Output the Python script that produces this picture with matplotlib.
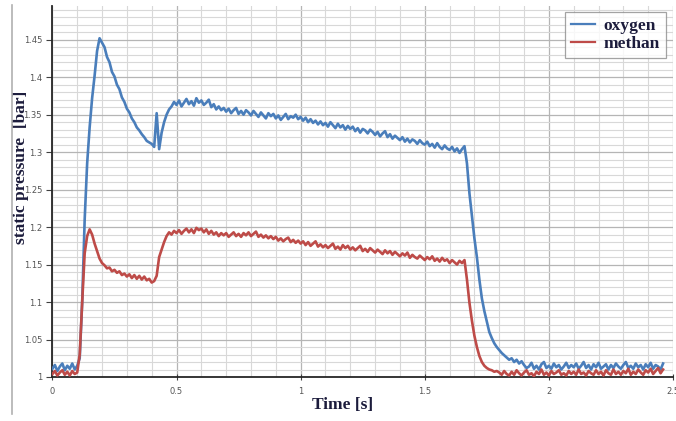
import numpy as np
import matplotlib
matplotlib.use("Agg")
import matplotlib.pyplot as plt
from matplotlib.ticker import MultipleLocator, FuncFormatter
from matplotlib.lines import Line2D

# ---------------- data ----------------
dt = 0.01  # sampling step of the listed values [s]

# oxygen: (segment start time, values every dt)
oxygen_segments = [
    (0.00, [1.011, 1.016, 1.008, 1.014, 1.018, 1.009, 1.015, 1.011, 1.018, 1.010]),
    (0.10, [1.015, 1.025, 1.100, 1.210, 1.285, 1.333, 1.372, 1.402, 1.435, 1.452]),
    (0.20, [1.446, 1.440, 1.427, 1.420, 1.407, 1.401, 1.390, 1.384, 1.373, 1.367]),
    (0.30, [1.358, 1.353, 1.345, 1.340, 1.333, 1.329, 1.324, 1.320, 1.315, 1.313]),
    (0.40, [1.311, 1.307, 1.352, 1.304, 1.326, 1.340, 1.350, 1.357, 1.361, 1.367]),
    (0.50, [1.363, 1.369, 1.361, 1.366, 1.371, 1.364, 1.368, 1.362, 1.372, 1.366]),
    (0.60, [1.369, 1.363, 1.366, 1.370, 1.360, 1.364, 1.357, 1.361, 1.356, 1.359]),
    (0.70, [1.354, 1.358, 1.352, 1.356, 1.359, 1.351, 1.355, 1.350, 1.356, 1.353]),
    (0.80, [1.349, 1.355, 1.351, 1.347, 1.353, 1.349, 1.345, 1.352, 1.348, 1.351]),
    (0.90, [1.345, 1.349, 1.343, 1.347, 1.351, 1.344, 1.348, 1.346, 1.350, 1.344]),
    (1.00, [1.347, 1.342, 1.346, 1.340, 1.344, 1.339, 1.342, 1.337, 1.341, 1.336]),
    (1.10, [1.339, 1.334, 1.340, 1.336, 1.332, 1.338, 1.333, 1.336, 1.330, 1.335]),
    (1.20, [1.331, 1.334, 1.328, 1.332, 1.326, 1.331, 1.329, 1.325, 1.330, 1.327]),
    (1.30, [1.323, 1.327, 1.321, 1.325, 1.328, 1.320, 1.324, 1.318, 1.322, 1.319]),
    (1.40, [1.316, 1.320, 1.314, 1.318, 1.313, 1.317, 1.315, 1.311, 1.316, 1.312]),
    (1.50, [1.310, 1.314, 1.308, 1.311, 1.306, 1.312, 1.307, 1.304, 1.309, 1.305]),
    (1.60, [1.303, 1.307, 1.301, 1.305, 1.299, 1.304, 1.308, 1.285, 1.245, 1.215]),
    (1.70, [1.185, 1.160, 1.130, 1.105, 1.088, 1.074, 1.060, 1.052, 1.045, 1.040]),
    (1.80, [1.036, 1.032, 1.029, 1.026, 1.023, 1.025, 1.020, 1.023, 1.018, 1.021]),
    (1.90, [1.016, 1.012, 1.014, 1.019, 1.011, 1.015, 1.010, 1.017, 1.020, 1.012]),
    (2.00, [1.015, 1.011, 1.018, 1.013, 1.016, 1.010, 1.014, 1.019, 1.012, 1.016]),
    (2.10, [1.013, 1.018, 1.011, 1.015, 1.020, 1.012, 1.016, 1.010, 1.017, 1.013]),
    (2.20, [1.019, 1.011, 1.014, 1.017, 1.010, 1.016, 1.012, 1.018, 1.014, 1.011]),
    (2.30, [1.016, 1.020, 1.012, 1.015, 1.011, 1.018, 1.013, 1.016, 1.010, 1.017]),
    (2.40, [1.013, 1.019, 1.011, 1.016, 1.014, 1.010, 1.018]),
]

methan_segments = [
    (0.00, [1.004, 1.008, 1.002, 1.006, 1.009, 1.003, 1.007, 1.002, 1.008, 1.004]),
    (0.10, [1.006, 1.030, 1.100, 1.165, 1.188, 1.197, 1.190, 1.178, 1.168, 1.158]),
    (0.20, [1.152, 1.149, 1.145, 1.146, 1.141, 1.143, 1.139, 1.141, 1.136, 1.138]),
    (0.30, [1.134, 1.137, 1.132, 1.136, 1.131, 1.135, 1.130, 1.134, 1.129, 1.131]),
    (0.40, [1.126, 1.128, 1.135, 1.160, 1.170, 1.180, 1.188, 1.193, 1.190, 1.195]),
    (0.50, [1.192, 1.196, 1.191, 1.195, 1.198, 1.193, 1.197, 1.192, 1.199, 1.196]),
    (0.60, [1.198, 1.193, 1.197, 1.191, 1.195, 1.190, 1.193, 1.188, 1.192, 1.189]),
    (0.70, [1.192, 1.187, 1.190, 1.193, 1.188, 1.191, 1.187, 1.192, 1.189, 1.193]),
    (0.80, [1.188, 1.191, 1.194, 1.187, 1.190, 1.186, 1.189, 1.185, 1.188, 1.184]),
    (0.90, [1.187, 1.182, 1.185, 1.181, 1.184, 1.186, 1.180, 1.183, 1.179, 1.182]),
    (1.00, [1.178, 1.181, 1.176, 1.180, 1.175, 1.178, 1.181, 1.174, 1.177, 1.173]),
    (1.10, [1.176, 1.172, 1.175, 1.178, 1.171, 1.174, 1.170, 1.176, 1.172, 1.175]),
    (1.20, [1.170, 1.173, 1.169, 1.172, 1.175, 1.168, 1.171, 1.167, 1.172, 1.169]),
    (1.30, [1.166, 1.170, 1.167, 1.164, 1.169, 1.165, 1.168, 1.163, 1.167, 1.164]),
    (1.40, [1.161, 1.165, 1.162, 1.166, 1.159, 1.163, 1.160, 1.158, 1.162, 1.159]),
    (1.50, [1.156, 1.160, 1.157, 1.161, 1.155, 1.158, 1.154, 1.159, 1.155, 1.157]),
    (1.60, [1.152, 1.156, 1.153, 1.150, 1.155, 1.152, 1.156, 1.130, 1.099, 1.075]),
    (1.70, [1.055, 1.040, 1.028, 1.020, 1.015, 1.012, 1.010, 1.009, 1.007, 1.008]),
    (1.80, [1.006, 1.003, 1.008, 1.004, 1.002, 1.007, 1.003, 1.009, 1.005, 1.002]),
    (1.90, [1.006, 1.009, 1.003, 1.005, 1.001, 1.007, 1.004, 1.010, 1.003, 1.006]),
    (2.00, [1.002, 1.008, 1.004, 1.006, 1.009, 1.003, 1.005, 1.002, 1.008, 1.004]),
    (2.10, [1.007, 1.003, 1.010, 1.004, 1.006, 1.002, 1.008, 1.005, 1.003, 1.009]),
    (2.20, [1.004, 1.007, 1.002, 1.009, 1.005, 1.003, 1.010, 1.004, 1.007, 1.003]),
    (2.30, [1.008, 1.005, 1.011, 1.003, 1.007, 1.004, 1.010, 1.006, 1.003, 1.009]),
    (2.40, [1.006, 1.011, 1.004, 1.008, 1.012, 1.005, 1.010]),
]

series_names = ["oxygen", "methan"]
series_colors = ["#4A7EBB", "#BE4B48"]
x_ticks = [0, 0.5, 1, 1.5, 2, 2.5]
y_ticks = [1, 1.05, 1.1, 1.15, 1.2, 1.25, 1.3, 1.35, 1.4, 1.45]
x_label = "Time [s]"
y_label = "static pressure  [bar]"


def expand(segments):
    t, v = [], []
    for start, vals in segments:
        for i, val in enumerate(vals):
            t.append(start + i * dt)
            v.append(val)
    return np.array(t), np.array(v)


# ---------------- figure ----------------
W, H = 676, 421
fig = plt.figure(figsize=(W / 100, H / 100), dpi=100)
fig.patch.set_facecolor("white")

left_px, right_px, top_px, bottom_px = 52.4, 673, 6, 377
ax = fig.add_axes([left_px / W, 1 - bottom_px / H,
                   (right_px - left_px) / W, (bottom_px - top_px) / H])

for segs, name, col in zip([oxygen_segments, methan_segments], series_names, series_colors):
    t, v = expand(segs)
    ax.plot(t, v, color=col, lw=1.9, label=name, zorder=3)

ax.set_xlim(0, 2.5)
ax.set_ylim(1, 1.495)

ax.xaxis.set_minor_locator(MultipleLocator(0.1))
ax.yaxis.set_minor_locator(MultipleLocator(0.01))
ax.set_xticks(x_ticks)
ax.set_yticks(y_ticks)
fmt = FuncFormatter(lambda v, p: "%g" % round(v, 3))
ax.xaxis.set_major_formatter(fmt)
ax.yaxis.set_major_formatter(fmt)

ax.grid(which="major", color="#b5b5b5", lw=0.9, zorder=0)
ax.grid(which="minor", color="#d8d8d8", lw=0.8, zorder=0)
ax.set_axisbelow(True)

for s in ["top", "right"]:
    ax.spines[s].set_visible(False)
for s in ["left", "bottom"]:
    ax.spines[s].set_color("#262626")
    ax.spines[s].set_linewidth(1.3)

ax.tick_params(axis="both", which="major", labelsize=6, labelcolor="#555555",
               color="#404040", length=4, width=0.8)
ax.tick_params(axis="y", which="major", direction="out", pad=3.5)
ax.tick_params(axis="x", which="major", direction="inout", length=5, pad=5)
ax.tick_params(which="minor", length=0)

label_font = dict(family=["Liberation Serif", "DejaVu Serif"], weight="bold",
                  size=12.5, color="#1c1c3c")
ax.set_xlabel(x_label, **label_font)
ax.xaxis.label.set_va("center")
ax.xaxis.set_label_coords((343 - left_px) / (right_px - left_px),
                          -(405 - bottom_px) / (bottom_px - top_px))
ax.set_ylabel(y_label, **label_font)
ax.yaxis.label.set_va("center")
ax.yaxis.set_label_coords(-(left_px - 21) / (right_px - left_px),
                          (bottom_px - 167) / (bottom_px - top_px))

leg = ax.legend(loc="upper right", bbox_to_anchor=((666 - left_px) / (right_px - left_px),
                                                    (bottom_px - 12) / (bottom_px - top_px)),
                borderaxespad=0, frameon=True, fancybox=False,
                prop=dict(family=["Liberation Serif", "DejaVu Serif"], weight="bold", size=12.5),
                handlelength=1.4, handletextpad=0.5, labelspacing=0.1,
                borderpad=0.35)
leg.get_frame().set_edgecolor("#8c8c8c")
leg.get_frame().set_linewidth(0.9)
for txt in leg.get_texts():
    txt.set_color("#1c1c3c")
for ln in leg.get_lines():
    ln.set_linewidth(1.6)

# outer frame line on the left of the picture
fig.add_artist(Line2D([12 / W, 12 / W], [1 - 5 / H, 1 - 414 / H],
                      transform=fig.transFigure, color="#b0b0b0", lw=1.2))

fig.savefig("out.png", dpi=100, facecolor="white")
